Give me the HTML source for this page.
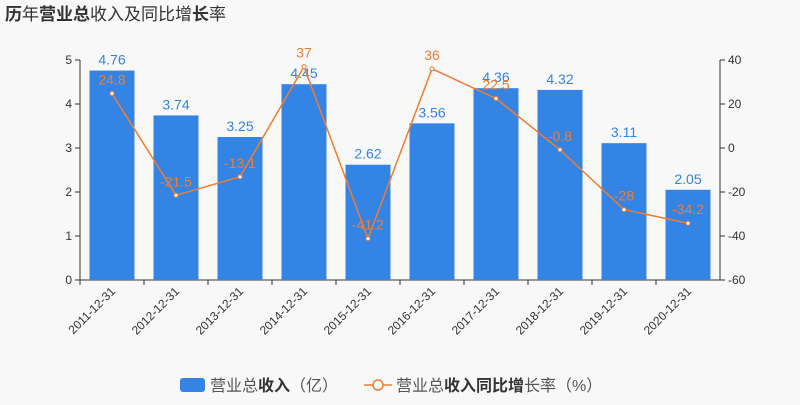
<!DOCTYPE html>
<html><head><meta charset="utf-8"><style>
body{margin:0;background:#f8f8f8;width:800px;height:400px;overflow:hidden;font-family:"Liberation Sans","Noto Sans CJK SC",sans-serif}
</style></head><body>
<svg id="c" width="800" height="400" xmlns="http://www.w3.org/2000/svg" style="font-family:'Liberation Sans','Noto Sans CJK SC',sans-serif">
<text x="5" y="20" font-size="17" fill="#333"><tspan font-weight="bold">历</tspan>年<tspan font-weight="bold">营业总</tspan>收入及同比增<tspan font-weight="bold">长</tspan>率</text>
<g>
<rect x="180" y="378" width="25" height="14" rx="3" fill="#3384e4"/>
<text x="210" y="391" font-size="16" fill="#555">营业总<tspan font-weight="bold" fill="#333">收入</tspan>（亿）</text>
<line x1="364" y1="385" x2="392" y2="385" stroke="#f27c2e" stroke-width="1.5"/>
<circle cx="378" cy="385" r="5" fill="#fff" stroke="#f27c2e" stroke-width="1.5"/>
<text x="396" y="391" font-size="16" fill="#555">营业总<tspan font-weight="bold" fill="#333">收入同比增</tspan>长率（%）</text>
</g>
</svg>
<script>
const categories=["2011-12-31","2012-12-31","2013-12-31","2014-12-31","2015-12-31","2016-12-31","2017-12-31","2018-12-31","2019-12-31","2020-12-31"];
const revenue=[4.76,3.74,3.25,4.45,2.62,3.56,4.36,4.32,3.11,2.05];
const growth=[24.8,-21.5,-13.1,37,-41.2,36,22.5,-0.8,-28,-34.2];
const leftTicks=[0,1,2,3,4,5];
const rightTicks=[-60,-40,-20,0,20,40];
const svg=document.getElementById('c');const NS='http://www.w3.org/2000/svg';
const X0=80,X1=720,Y0=280,Y1=60;
const band=(X1-X0)/categories.length;
const xc=i=>X0+band*(i+0.5);
const yl=v=>Y0-(v-0)/(5-0)*(Y0-Y1);
const yr=v=>Y0-(v+60)/(100)*(Y0-Y1);
function mk(t,a,p){const e=document.createElementNS(NS,t);for(const k in a)e.setAttribute(k,a[k]);(p||svg).appendChild(e);return e;}
let e;
e=mk('line',{x1:X0,y1:Y1,x2:X0,y2:Y0,stroke:'#333'});


e=mk('line',{x1:X1,y1:Y1,x2:X1,y2:Y0,stroke:'#333'});


e=mk('line',{x1:X0,y1:Y0,x2:X1,y2:Y0,stroke:'#333'});


leftTicks.forEach(v=>{mk('line',{x1:X0-5,y1:yl(v),x2:X0,y2:yl(v),stroke:'#333'});
e=mk('text',{x:X0-8,y:yl(v)+4,'font-size':12,fill:'#333','text-anchor':'end'});e.textContent=v;

});
rightTicks.forEach(v=>{mk('line',{x1:X1,y1:yr(v),x2:X1+5,y2:yr(v),stroke:'#333'});
e=mk('text',{x:X1+8,y:yr(v)+4,'font-size':12,fill:'#333'});e.textContent=v;

});
categories.forEach((c,i)=>{const x=xc(i);
mk('line',{x1:X0+band*i,y1:Y0,x2:X0+band*i,y2:Y0+5,stroke:'#333'});
e=mk('text',{x:x+4,y:Y0+12,'font-size':12,fill:'#333','text-anchor':'end',transform:`rotate(-45 ${x+4} ${Y0+12})`});e.textContent=c;


const bw=45;
e=mk('rect',{x:x-bw/2,y:yl(revenue[i]),width:bw,height:Y0-yl(revenue[i]),fill:'#3384e4'});


e=mk('text',{x:x,y:yl(revenue[i])-6,'font-size':14,fill:'#3384e4','text-anchor':'middle'});e.textContent=revenue[i];

});
e=mk('polyline',{points:growth.map((v,i)=>xc(i)+','+yr(v)).join(' '),fill:'none',stroke:'#f27c2e','stroke-width':1.5});


growth.forEach((v,i)=>{e=mk('circle',{cx:xc(i),cy:yr(v),r:2,fill:'#fff',stroke:'#f27c2e'});


e=mk('text',{x:xc(i),y:yr(v)-9,'font-size':14,fill:'#f27c2e','text-anchor':'middle'});e.textContent=v;

});
</script>
</body></html>
